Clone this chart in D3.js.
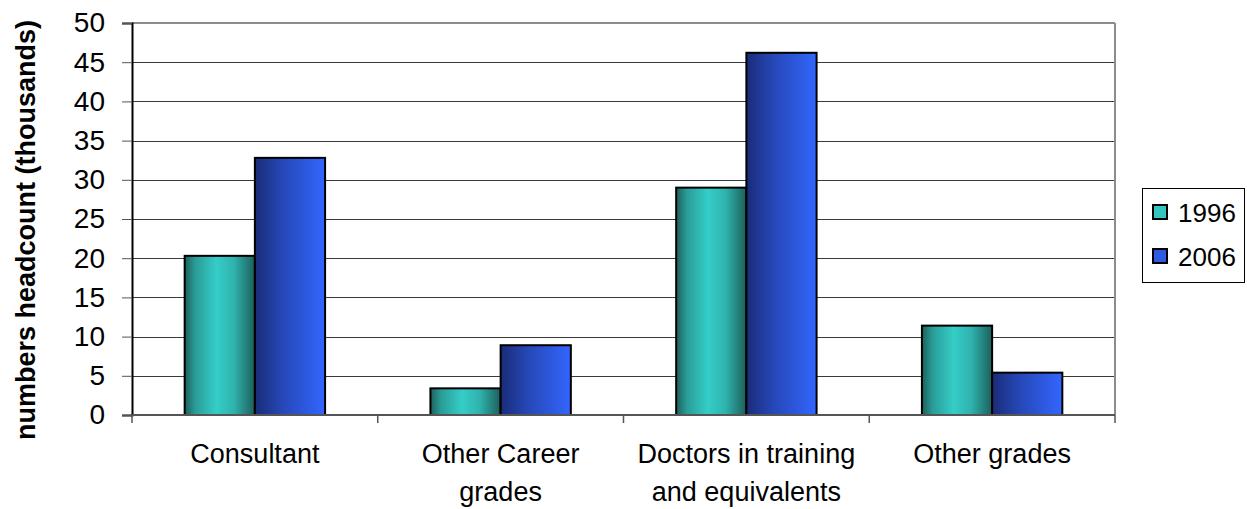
<!DOCTYPE html>
<html>
<head>
<meta charset="utf-8">
<script src="https://cdn.jsdelivr.net/npm/d3@7"></script>
<style>
  body { margin: 0; background: #fff; }
  text { font-family: "Liberation Sans", Arial, sans-serif; }
</style>
</head>
<body>
<div id="chart"></div>
<script>
const categories = [["Consultant"], ["Other Career", "grades"], ["Doctors in training", "and equivalents"], ["Other grades"]];
const seriesNames = ["1996", "2006"];
const values1996 = [20.3, 3.4, 29.0, 11.4];
const values2006 = [32.8, 8.9, 46.2, 5.4];
const yTicks = [0, 5, 10, 15, 20, 25, 30, 35, 40, 45, 50];

const width = 1247, height = 509;
const margin = {top: 23, right: 132, bottom: 94, left: 132};

const svg = d3.select("#chart").append("svg")
  .attr("width", width)
  .attr("height", height);

const defs = svg.append("defs");
const g1 = defs.append("linearGradient").attr("id", "grad1996");
[["0%", "#1d5f5b"], ["15%", "#2a9c97"], ["45%", "#35cdc8"], ["70%", "#2fb3ae"], ["100%", "#1d5f5b"]]
  .forEach(([o, c]) => g1.append("stop").attr("offset", o).attr("stop-color", c));
const g2 = defs.append("linearGradient").attr("id", "grad2006");
[["0%", "#1a2c78"], ["40%", "#2648b8"], ["100%", "#3366ff"]]
  .forEach(([o, c]) => g2.append("stop").attr("offset", o).attr("stop-color", c));
const fills = ["url(#grad1996)", "url(#grad2006)"];
const swatch = ["#33c6c0", "#2f5be0"];

const x0 = d3.scaleBand()
  .domain(d3.range(categories.length))
  .range([margin.left, width - margin.right]);
const x1 = d3.scaleBand()
  .domain(seriesNames)
  .range([0, x0.bandwidth()])
  .paddingInner(0)
  .paddingOuter(0.75);
const y = d3.scaleLinear()
  .domain([0, 50])
  .range([height - margin.bottom, margin.top]);

// gridlines
svg.append("g")
  .selectAll("line")
  .data(yTicks.slice(1, -1))
  .join("line")
    .attr("x1", margin.left)
    .attr("x2", width - margin.right)
    .attr("y1", d => Math.round(y(d)) + 0.5)
    .attr("y2", d => Math.round(y(d)) + 0.5)
    .attr("stroke", "#3a3a3a")
    .attr("stroke-width", 1);

// plot frame top/right
svg.append("line")
  .attr("x1", margin.left).attr("x2", width - margin.right)
  .attr("y1", margin.top).attr("y2", margin.top)
  .attr("stroke", "#8c8c8c").attr("stroke-width", 2);
svg.append("line")
  .attr("x1", width - margin.right).attr("x2", width - margin.right)
  .attr("y1", margin.top).attr("y2", y(0))
  .attr("stroke", "#8c8c8c").attr("stroke-width", 2);

// bars
const data = categories.map((c, i) => [values1996[i], values2006[i]]);
svg.append("g")
  .selectAll("g")
  .data(data)
  .join("g")
    .attr("transform", (d, i) => `translate(${x0(i)},0)`)
  .selectAll("rect")
  .data(d => d.map((v, j) => ({v, j})))
  .join("rect")
    .attr("x", d => x1(seriesNames[d.j]))
    .attr("y", d => y(d.v))
    .attr("width", x1.bandwidth())
    .attr("height", d => y(0) - y(d.v))
    .attr("fill", d => fills[d.j])
    .attr("stroke", "#000")
    .attr("stroke-width", 2);

// y axis
const yAxis = svg.append("g")
  .attr("transform", `translate(${margin.left},0)`)
  .call(d3.axisLeft(y).tickValues(yTicks).tickSize(10).tickPadding(17));
yAxis.select(".domain").attr("stroke", "#000").attr("stroke-width", 2);
yAxis.selectAll(".tick line").attr("stroke", "#555");
yAxis.selectAll(".tick text")
  .style("font-size", "28px")
  .attr("fill", "#000")
  .style("font-family", "Liberation Sans, Arial, sans-serif");

// x axis
const xAxisY = y(0);
svg.append("line")
  .attr("x1", margin.left).attr("x2", width - margin.right)
  .attr("y1", xAxisY).attr("y2", xAxisY)
  .attr("stroke", "#555").attr("stroke-width", 2);
svg.append("g")
  .selectAll("line")
  .data(d3.range(categories.length + 1))
  .join("line")
    .attr("x1", i => i < categories.length ? x0(i) : width - margin.right)
    .attr("x2", i => i < categories.length ? x0(i) : width - margin.right)
    .attr("y1", xAxisY)
    .attr("y2", xAxisY + 8)
    .attr("stroke", "#555")
    .attr("stroke-width", 1.5);

svg.append("g")
  .selectAll("text")
  .data(categories)
  .join("text")
    .attr("x", (d, i) => x0(i) + x0.bandwidth() / 2)
    .attr("y", 463)
    .attr("text-anchor", "middle")
    .attr("font-size", 27)
    .attr("fill", "#000")
  .selectAll("tspan")
  .data(d => d)
  .join("tspan")
    .attr("x", function() { return this.parentNode.getAttribute("x"); })
    .attr("dy", (d, i) => i === 0 ? 0 : 38)
    .text(d => d);

// y title
svg.append("text")
  .attr("transform", `translate(35,${(margin.top + y(0)) / 2 + 11}) rotate(-90)`)
  .attr("text-anchor", "middle")
  .attr("font-size", 27)
  .attr("font-weight", "bold")
  .attr("fill", "#000")
  .text("numbers headcount (thousands)");

// legend
const legend = svg.append("g");
legend.append("rect")
  .attr("x", 1142.5).attr("y", 188.5)
  .attr("width", 102).attr("height", 94)
  .attr("fill", "#fff").attr("stroke", "#000").attr("stroke-width", 1);
const items = legend.selectAll("g")
  .data(seriesNames)
  .join("g")
    .attr("transform", (d, i) => `translate(1153,${205 + i * 44})`);
items.append("rect")
  .attr("width", 14).attr("height", 14)
  .attr("fill", (d, i) => swatch[i])
  .attr("stroke", "#000").attr("stroke-width", 2);
items.append("text")
  .attr("x", 25).attr("y", 17)
  .attr("font-size", 26)
  .attr("fill", "#000")
  .text(d => d);
</script>
</body>
</html>
